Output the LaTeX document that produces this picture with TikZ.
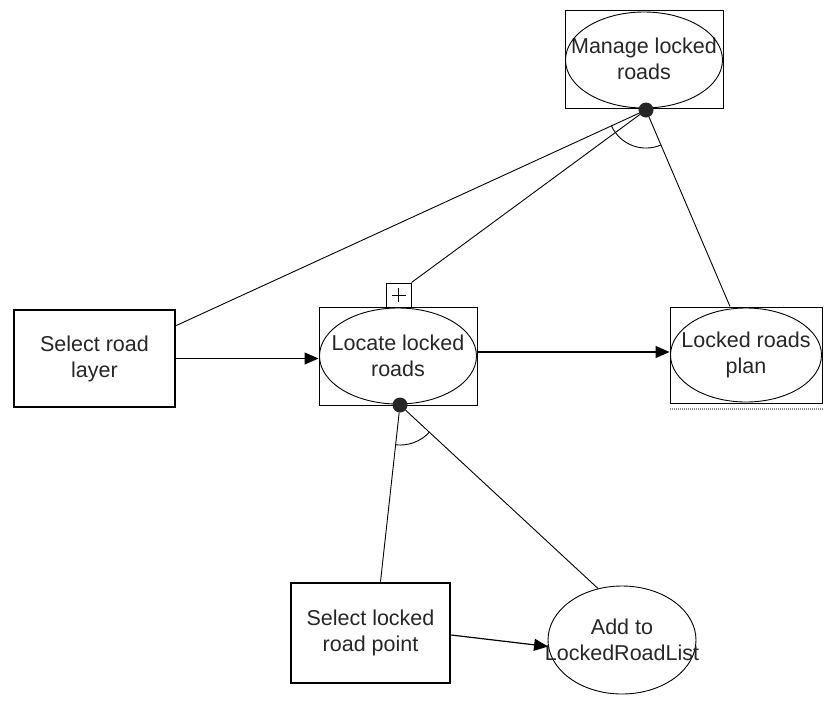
\documentclass[tikz,border=0pt]{standalone}
\usepackage{fontspec}
\setmainfont{Liberation Sans}
\usetikzlibrary{shapes.geometric,arrows.meta}
\tikzset{
  lbl/.style={font=\fontsize{21.5}{26}\selectfont, align=center, text=black!85},
  framebox/.style={draw, line width=1pt, minimum width=#1, inner sep=0pt, lbl},
  actbox/.style={draw, line width=2.6pt, inner sep=0pt, lbl},
  oval/.style={draw, ellipse, line width=0.9pt, inner sep=0pt},
  link/.style={line width=0.9pt},
  flow/.style={line width=1.2pt, -{Triangle[length=14pt,width=12pt]}},
  joint/.style={circle, fill=black!85, minimum size=15pt, inner sep=0pt},
}
\begin{document}
\begin{tikzpicture}[x=1pt,y=-1pt]
\useasboundingbox (0,0) rectangle (824,707);

% composite functions: frame with inscribed oval
\node[framebox=158pt, minimum height=98pt] (manage) at (644,59) {Manage locked\\roads};
\node[oval, minimum width=157pt, minimum height=96pt] (manageov) at (644,60) {};

\node[framebox=158pt, minimum height=98pt] (locate) at (398,356) {Locate locked\\roads};
\node[oval, minimum width=157pt, minimum height=96pt] (locateov) at (398,356) {};
\node[draw, line width=1pt, minimum width=25pt, minimum height=24pt, inner sep=0pt] (plus) at (398.5,295) {};
\draw[line width=1pt] ([xshift=-7pt]plus.center) -- ([xshift=7pt]plus.center)
                      ([yshift=-7pt]plus.center) -- ([yshift=7pt]plus.center);

\node[framebox=152pt, minimum height=96pt] (plan) at (746,355) {Locked roads\\plan};
\node[oval, minimum width=151pt, minimum height=94pt] (planov) at (746,355) {};
\draw[line width=2pt, black!45, dash pattern=on 1pt off 1pt] ([yshift=-5pt]plan.south west) -- ([yshift=-5pt]plan.south east);

% elementary functions
\node[actbox, minimum width=161pt, minimum height=97pt] (layer) at (94.5,358.5) {Select road\\layer};
\node[actbox, minimum width=159pt, minimum height=100pt] (point) at (370.5,633) {Select locked\\road point};
\node[oval, minimum width=148pt, minimum height=108pt] (add) at (622,640) {};
\node[lbl] (addtext) at (add.center) {Add to\\LockedRoadList};

% decomposition joints
\node[joint] (mdot) at (646,110) {};
\node[joint] (ldot) at (400,405) {};

% decomposition links
\draw[link] ([yshift=33pt]layer.east) -- (mdot);
\draw[link] (plus.north east) -- (mdot);
\draw[link] (mdot) -- ([xshift=-16pt]plan.north);
\draw[link] (611.4,125.8) arc[start angle=155.5, end angle=66.7, radius=38];

\draw[link] (ldot) -- ([xshift=10pt]point.north);
\draw[link] (ldot) -- (add.115);
\draw[link] (395.5,444.8) arc[start angle=96.4, end angle=42.7, radius=40];

% flows
\draw[flow] (layer.east) -- (layer.east -| locate.west);
\draw[flow] ([yshift=4pt]locate.east) -- ([yshift=4pt]locate.east -| plan.west);
\draw[flow] ([yshift=-2pt]point.east) -- (add.185);
\end{tikzpicture}
\end{document}
